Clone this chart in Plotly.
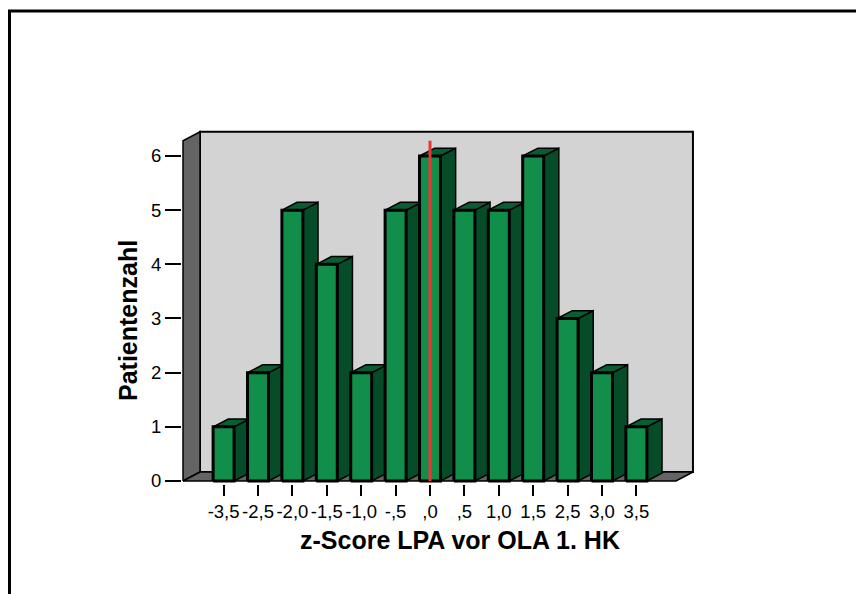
import plotly.graph_objects as go

# ---- data ----
categories = ["-3,5", "-2,5", "-2,0", "-1,5", "-1,0", "-,5", ",0", ",5", "1,0", "1,5", "2,5", "3,0", "3,5"]
counts = [1, 2, 5, 4, 2, 5, 6, 5, 5, 6, 3, 2, 1]
y_ticks = [0, 1, 2, 3, 4, 5, 6]
x_title = "z-Score LPA vor OLA 1. HK"
y_title = "Patientenzahl"
zero_category = ",0"

# ---- geometry (data units) ----
X0, X1 = -1.18, 13.15       # front floor extent
H = 6.28                     # box height
WDX, WDY = 0.494, 0.166      # wall depth offset
HW = 0.305                   # half bar width
BDX, BDY = 0.44, 0.145       # bar depth offset

# ---- styles ----
FONT = "Arial, 'Liberation Sans', sans-serif"
BACK = "#d3d3d3"
WALL = "#646464"
G_FRONT = "#108e4a"
G_SIDE = "#064c28"
G_TOP = "#0a5c31"
RED = "#ee3535"

fig = go.Figure()


def poly(xs, ys, fill, lw=2):
    fig.add_trace(go.Scatter(
        x=list(xs) + [xs[0]], y=list(ys) + [ys[0]], mode="lines", fill="toself",
        fillcolor=fill, line=dict(color="black", width=lw),
        hoverinfo="skip", showlegend=False))


# back wall
poly([X0 + WDX, X1 + WDX, X1 + WDX, X0 + WDX], [WDY, WDY, H + WDY, H + WDY], BACK, 2)
# left wall
poly([X0, X0 + WDX, X0 + WDX, X0], [0, WDY, H + WDY, H], WALL, 1.5)
# floor
poly([X0, X1, X1 + WDX, X0 + WDX], [0, 0, WDY, WDY], WALL, 1.5)

# bars
for i, v in enumerate(counts):
    l, r = i - HW, i + HW
    poly([r, r + BDX, r + BDX, r], [0, BDY, v + BDY, v], G_SIDE, 1.5)
    poly([l, r, r + BDX, l + BDX], [v, v, v + BDY, v + BDY], G_TOP, 1.5)
    poly([l, r, r, l], [0, 0, v, v], G_FRONT, 3)

# red reference line at zero
zi = categories.index(zero_category)
fig.add_trace(go.Scatter(x=[zi, zi], y=[0, H], mode="lines",
                         line=dict(color=RED, width=3), hoverinfo="skip", showlegend=False))

# plot area pixels: left 182, right 700, top 125, bottom 484
PL, PR, PT, PB = 182, 700, 125, 484
W, Hh = 856, 594

def px2paper_x(px):
    return (px - PL) / (PR - PL)

def px2paper_y(py):
    return (PB - py) / (PB - PT)

fig.update_layout(
    width=W, height=Hh,
    margin=dict(l=PL, r=W - PR, t=PT, b=Hh - PB, pad=0),
    paper_bgcolor="white", plot_bgcolor="white",
    showlegend=False,
    font=dict(family=FONT, color="black"),
    xaxis=dict(range=[-1.2093, 13.849], showgrid=False, zeroline=False, showline=False,
               tickmode="array", tickvals=list(range(len(categories))), ticktext=categories,
               tickangle=0,
               ticks="outside", ticklen=11, tickwidth=2, tickcolor="black",
               tickfont=dict(family=FONT, size=18.5, color="black"), fixedrange=True),
    yaxis=dict(range=[-0.0554, 6.572], showgrid=False, zeroline=False, showline=False,
               tickmode="array", tickvals=y_ticks, ticktext=[str(t) for t in y_ticks],
               ticks="outside", ticklen=16, tickwidth=2, tickcolor="black",
               tickfont=dict(family=FONT, size=18.5, color="black"), fixedrange=True),
    annotations=[
        dict(text=f"<b>{x_title}</b>", xref="paper", yref="paper",
             x=px2paper_x(460), y=px2paper_y(540), xanchor="center", yanchor="middle",
             showarrow=False, font=dict(family=FONT, size=25, color="black")),
        dict(text=f"<b>{y_title}</b>", xref="paper", yref="paper",
             x=px2paper_x(128), y=px2paper_y(321), xanchor="center", yanchor="middle",
             textangle=-90, showarrow=False, font=dict(family=FONT, size=25, color="black")),
    ],
    shapes=[
        dict(type="rect", xref="paper", yref="paper", layer="above",
             x0=px2paper_x(9.5), x1=px2paper_x(900), y0=px2paper_y(650), y1=px2paper_y(11),
             line=dict(color="black", width=3), fillcolor="rgba(0,0,0,0)"),
    ],
)

fig.write_html("out.html")
